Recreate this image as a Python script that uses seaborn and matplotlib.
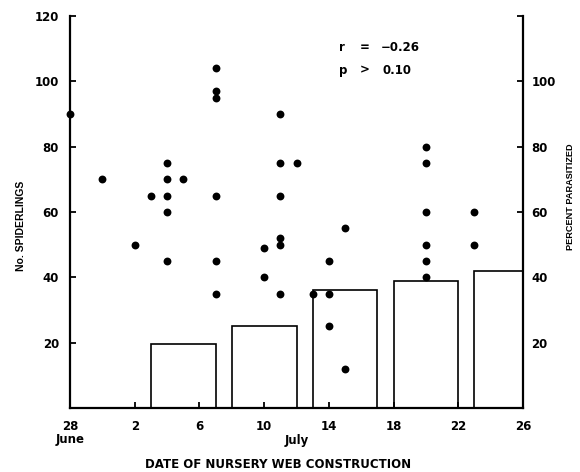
import numpy as np
import pandas as pd
import matplotlib
matplotlib.use("Agg")
import matplotlib.pyplot as plt
import seaborn as sns

# days counted from 28 June (day 0); 2 July = day 4
tick_days = [0, 4, 8, 12, 16, 20, 24, 28]
tick_labels = ["28\nJune", "2", "6", "10", "14", "18", "22", "26"]

# nursery webs: day of construction, number of spiderlings
web_day = [0, 2, 4, 5, 6, 6, 6, 6, 6, 7,
           9, 9, 9, 9, 9, 9,
           12, 12, 13, 13, 13, 13, 13, 13, 14,
           15, 16, 16, 16, 17, 17,
           22, 22, 22, 22, 22, 22, 25, 25]
spiderlings = [90, 70, 50, 65, 75, 70, 65, 60, 45, 70,
               104, 97, 95, 65, 45, 35,
               49, 40, 90, 75, 65, 52, 50, 35, 75,
               35, 45, 35, 25, 55, 12,
               80, 75, 60, 50, 45, 40, 60, 50]

# percent parasitized per period
period_start = [5, 10, 15, 20, 25]
period_end = [9, 14, 19, 24, 28]
pct_parasitized = [19.5, 25, 36, 39, 42]

sns.set_style("ticks")
plt.rcParams["font.family"] = ["DejaVu Sans"]
plt.rcParams["font.weight"] = "bold"
plt.rcParams["text.color"] = "black"
plt.rcParams["axes.labelcolor"] = "black"
plt.rcParams["xtick.color"] = "black"
plt.rcParams["ytick.color"] = "black"
plt.rcParams["axes.edgecolor"] = "black"
narrow = ["Liberation Sans", "DejaVu Sans"]

webs = pd.DataFrame({"day": web_day, "n": spiderlings})

fig = plt.figure(figsize=(5.8, 4.72), dpi=100)
ax = fig.add_axes([70 / 580, 64 / 472, 453 / 580, 392 / 472])
ax2 = ax.twinx()

# bars for percent parasitized (right axis)
ax2.bar(period_start, pct_parasitized,
        width=np.array(period_end) - np.array(period_start), align="edge",
        facecolor="white", edgecolor="black", linewidth=1.2)

# spiderling counts (left axis)
sns.scatterplot(data=webs, x="day", y="n", ax=ax, color="black",
                s=32, edgecolor="black", linewidth=0, clip_on=False, zorder=5)

ax.set_zorder(ax2.get_zorder() + 1)
ax.patch.set_visible(False)

for a in (ax, ax2):
    a.set_xlim(0, 28)
    a.set_ylim(0, 120)
    for side in a.spines:
        a.spines[side].set_linewidth(1.6)
    a.spines["top"].set_visible(False)

ax.spines["right"].set_visible(False)
ax2.spines["left"].set_visible(False)
ax2.spines["bottom"].set_visible(False)

ax.set_yticks([20, 40, 60, 80, 100, 120])
ax.set_xticks(tick_days)
ax.set_xticklabels(tick_labels, linespacing=0.9)
ax.tick_params(axis="y", direction="in", length=4, width=1.3, pad=8,
               labelsize=8.5)
ax.tick_params(axis="x", direction="in", length=4, width=1.3, pad=9,
               labelsize=8.5)
ax2.set_yticks([20, 40, 60, 80, 100, 120])
ax2.set_yticklabels(["20", "40", "60", "80", "100", ""])
ax2.tick_params(axis="y", direction="in", length=4, width=1.3, pad=6,
                labelsize=8.5)

ax.annotate("July", xy=(14, 0), xycoords=("data", "axes fraction"),
            xytext=(0, -19), textcoords="offset points",
            ha="center", va="top", fontsize=8.5, fontweight="bold")

ax.set_xlabel("DATE OF NURSERY WEB CONSTRUCTION", fontsize=8.5,
              fontweight="bold")
ax.xaxis.set_label_coords(0.459, -0.127)
ax.set_ylabel("No. SPIDERLINGS", fontsize=7.5, fontweight="bold",
              family=narrow)
ax.yaxis.set_label_coords(-0.098, 0.465)
ax2.set_ylabel("PERCENT PARASITIZED", fontsize=6.6, fontweight="bold",
               family=narrow)
ax2.yaxis.set_label_coords(1.095, 0.54)

ax.text(0.594, 0.92, "r", transform=ax.transAxes, fontsize=8.5, va="center")
ax.text(0.64, 0.92, "=", transform=ax.transAxes, fontsize=8.5, va="center")
ax.text(0.685, 0.92, "\u22120.26", transform=ax.transAxes, fontsize=8.5, va="center")
ax.text(0.594, 0.862, "p", transform=ax.transAxes, fontsize=8.5, va="center")
ax.text(0.64, 0.862, ">", transform=ax.transAxes, fontsize=8.5, va="center")
ax.text(0.69, 0.862, "0.10", transform=ax.transAxes, fontsize=8.5, va="center")

fig.savefig("out.png", dpi=100)
